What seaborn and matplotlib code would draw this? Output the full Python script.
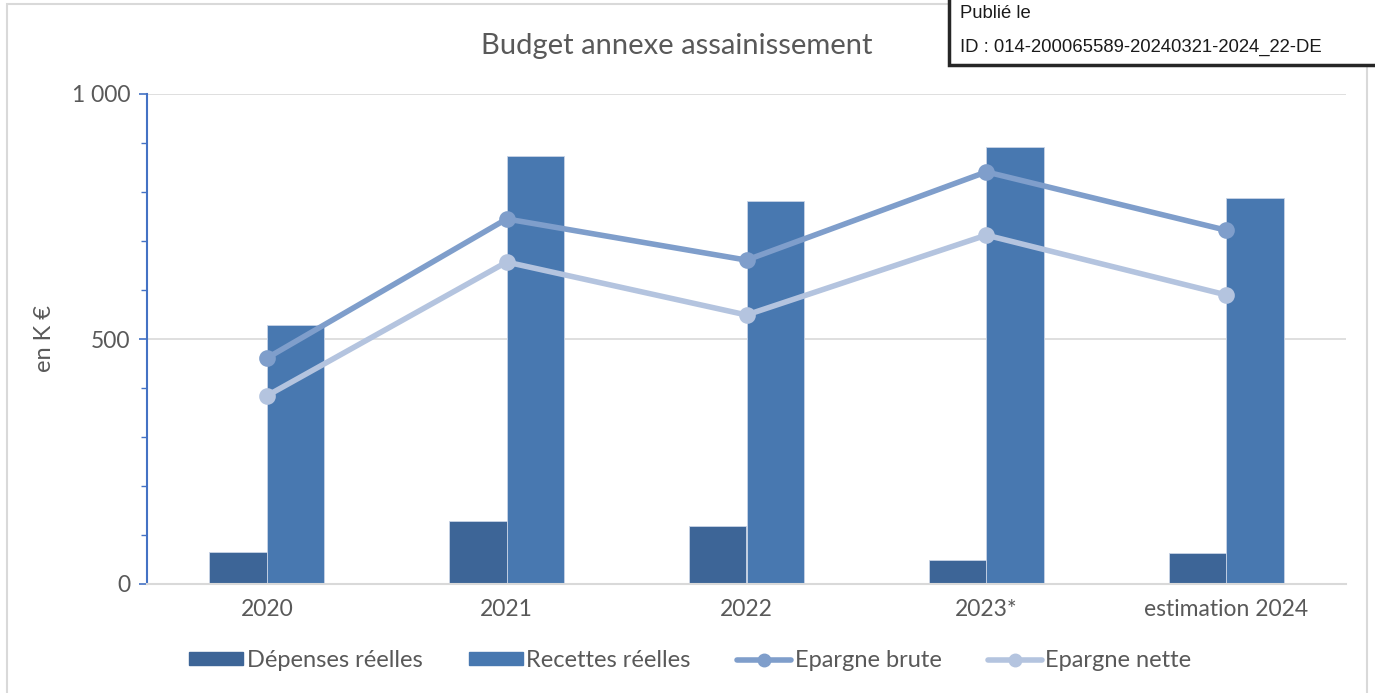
import pandas as pd
import matplotlib.pyplot as plt
import seaborn as sns
from matplotlib.patches import Rectangle
from matplotlib.lines import Line2D
from matplotlib.ticker import MultipleLocator, FuncFormatter

# Data (en K €)
annees = ['2020', '2021', '2022', '2023*', 'estimation 2024']
depenses = [65, 129, 118, 49, 63]
recettes = [529, 873, 782, 892, 788]
epargne_brute = [461, 745, 661, 841, 722]
epargne_nette = [384, 657, 549, 712, 590]

bar_colors = ['#3D6597', '#4878B0']
line_colors = ['#7F9ECB', '#B4C4DF']
text_color = '#595959'

bars = pd.DataFrame({
    'annee': annees * 2,
    'valeur': depenses + recettes,
    'serie': ['Dépenses réelles'] * 5 + ['Recettes réelles'] * 5,
})
lines = pd.DataFrame({
    'annee': annees * 2,
    'valeur': epargne_brute + epargne_nette,
    'serie': ['Epargne brute'] * 5 + ['Epargne nette'] * 5,
})

sns.set_style('white')
plt.rcParams['font.family'] = ['Lato', 'DejaVu Sans']

fig = plt.figure(figsize=(13.75, 6.93), dpi=100)
ax = fig.add_axes([147 / 1375, 1 - 584 / 693, 1199 / 1375, 490 / 693])

sns.barplot(data=bars, x='annee', y='valeur', hue='serie', palette=bar_colors,
            saturation=1, width=0.48, edgecolor='#C9D4E6', linewidth=0.6,
            ax=ax, legend=False)
sns.pointplot(data=lines, x='annee', y='valeur', hue='serie', palette=line_colors,
              markers='o', markersize=9, linewidth=4, dodge=False, ax=ax, legend=False)

ax.set_xlim(-0.5, 4.5)
ax.set_ylim(0, 1000)
ax.yaxis.set_major_locator(MultipleLocator(500))
ax.yaxis.set_minor_locator(MultipleLocator(100))
ax.yaxis.set_major_formatter(FuncFormatter(lambda v, p: f'{int(v):,}'.replace(',', ' ')))
ax.grid(axis='y', which='major', color='#D9D9D9', linewidth=1.2)
ax.set_axisbelow(True)

for s in ['top', 'right']:
    ax.spines[s].set_visible(False)
ax.spines['bottom'].set_color('#D9D9D9')
ax.spines['bottom'].set_linewidth(1.5)
ax.spines['left'].set_color('#4472C4')
ax.spines['left'].set_linewidth(1.5)

ax.tick_params(axis='y', which='major', left=True, length=6, width=1.2, color='#4472C4',
               labelsize=16.5, labelcolor=text_color, pad=6)
ax.tick_params(axis='y', which='minor', left=True, length=4, width=1, color='#4472C4')
ax.tick_params(axis='x', bottom=False, labelsize=16.5, labelcolor=text_color, pad=7)

ax.set_xlabel('')
ax.set_ylabel('en K €', fontsize=17, color=text_color, labelpad=12)

fig.text(0.492, 0.933, 'Budget annexe assainissement', ha='center', va='center',
         fontsize=21, color=text_color)

handles = [
    Rectangle((0, 0), 1, 1, color=bar_colors[0]),
    Rectangle((0, 0), 1, 1, color=bar_colors[1]),
    Line2D([], [], color=line_colors[0], lw=4, marker='o', markersize=9),
    Line2D([], [], color=line_colors[1], lw=4, marker='o', markersize=9),
]
labels = ['Dépenses réelles', 'Recettes réelles', 'Epargne brute', 'Epargne nette']
fig.legend(handles, labels, loc='center', bbox_to_anchor=(0.502, 0.047), ncol=4,
           frameon=False, fontsize=17, labelcolor=text_color, handlelength=2.3,
           handleheight=0.45, handletextpad=0.15, columnspacing=1.95)

# chart border
fig.patches.append(Rectangle((7 / 1375, -0.01), 1360 / 1375, 1 - 4 / 693 + 0.01,
                             transform=fig.transFigure, fill=False,
                             edgecolor='#D9D9D9', linewidth=1.5))

# stamp box
fig.patches.append(Rectangle((949 / 1375, 1 - 65 / 693), 440 / 1375, 70 / 693,
                             transform=fig.transFigure, facecolor='white',
                             edgecolor='#262626', linewidth=2.5, zorder=5))
fig.text(960 / 1375, 1 - 14 / 693, 'Publié le', ha='left', va='center',
         fontsize=13.3, family='Liberation Sans', color='#1a1a1a', zorder=6)
fig.text(960 / 1375, 1 - 47 / 693, 'ID : 014-200065589-20240321-2024_22-DE', ha='left',
         va='center', fontsize=13.3, family='Liberation Sans', color='#1a1a1a', zorder=6)

plt.savefig('out.png', dpi=100)
